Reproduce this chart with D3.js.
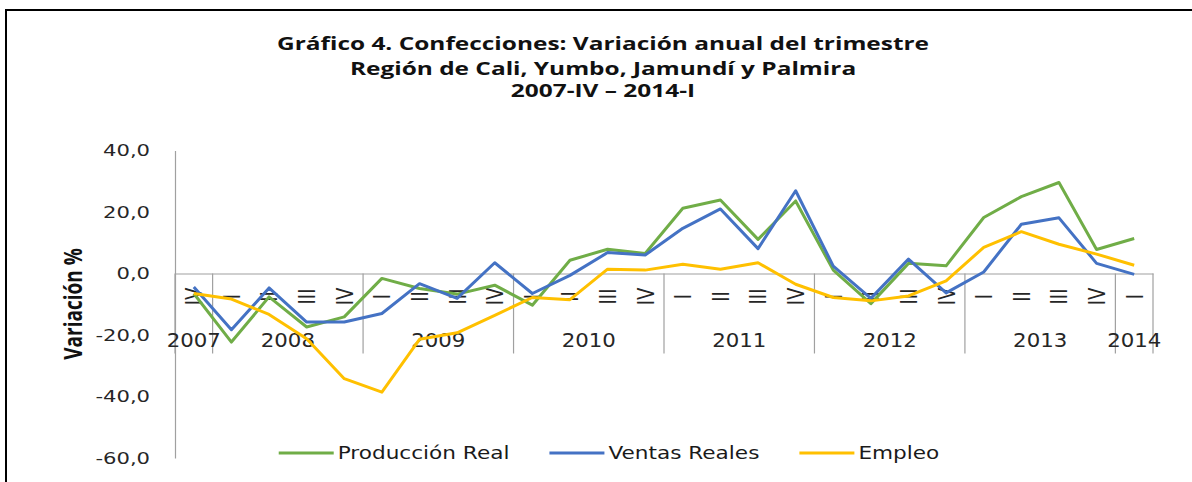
<!DOCTYPE html>
<html>
<head>
<meta charset="utf-8">
<script src="https://d3js.org/d3.v7.min.js"></script>
<style>
  body { margin: 0; background: #fff; }
  svg { display: block; }
</style>
</head>
<body>
<script>
var w = 1192;
var h = 482;

// categories: 2007-IV .. 2014-I
var quarters = ["IV",
  "I", "II", "III", "IV",
  "I", "II", "III", "IV",
  "I", "II", "III", "IV",
  "I", "II", "III", "IV",
  "I", "II", "III", "IV",
  "I", "II", "III", "IV",
  "I"];
var years = ["2007", "2008", "2009", "2010", "2011", "2012", "2013", "2014"];
var yearQuarters = [1, 4, 4, 4, 4, 4, 4, 1];

// series (variación anual %)
var produccion = [-6.5, -22.3, -7.6, -17.4, -14.1, -1.6, -4.9, -6.7, -3.8, -10.3, 4.3, 7.9, 6.5,
  21.2, 23.9, 11.1, 23.6, 1.1, -9.8, 3.3, 2.5, 18.2, 25.0, 29.6, 7.8, 11.4];
var ventas = [-4.4, -18.3, -4.7, -15.8, -15.8, -13.0, -3.3, -8.1, 3.5, -6.5, -0.6, 6.8, 6.0,
  14.7, 21.0, 8.1, 26.9, 2.4, -8.1, 4.7, -6.3, 0.5, 16.0, 18.1, 3.3, -0.3];
var empleo = [-6.5, -8.3, -13.3, -21.2, -34.2, -38.6, -21.4, -19.3, -13.6, -7.8, -8.5, 1.4, 1.1,
  3.0, 1.4, 3.5, -3.5, -7.8, -8.9, -7.3, -2.4, 8.5, 13.6, 9.5, 6.3, 2.7];

var seriesNames = ["Producción Real", "Ventas Reales", "Empleo"];
var seriesColors = ["#70ad47", "#4472c4", "#ffc000"];
var yTicks = [40, 20, 0, -20, -40, -60];

var titleLines = ["Gráfico 4. Confecciones: Variación anual del trimestre",
  "Región de Cali, Yumbo, Jamundí y Palmira",
  "2007-IV – 2014-I"];

var axisColor = "#a0a0a0";
var textColor = "#262626";

var canvas = d3.select("body").append("svg")
  .attr("width", w)
  .attr("height", h);

// frame
canvas.append("rect")
  .attr("x", 6).attr("y", 10)
  .attr("width", w + 20).attr("height", h + 20)
  .attr("fill", "none").attr("stroke", "#000").attr("stroke-width", 2);

var x = d3.scaleBand().domain(d3.range(quarters.length)).range([175, 1153]);
var y = d3.scaleLinear().domain([-60, 40]).range([458, 150.5]);
var bw = x.bandwidth();

// title
canvas.append("g").selectAll("g").data(titleLines).enter().append("g")
  .attr("transform", (d, i) => "translate(603," + [50, 74.5, 97][i] + ") scale(1.32,1)")
  .append("text")
  .attr("text-anchor", "middle")
  .attr("font-family", "Open Sans")
  .attr("font-weight", 700)
  .attr("font-size", 18.5)
  .attr("fill", "#111")
  .text((d) => d);

// y axis
var yAxis = canvas.append("g")
  .attr("transform", "translate(175, 0)")
  .call(d3.axisLeft(y).tickValues(yTicks).tickSize(0).tickPadding(19.5)
    .tickFormat((d) => d.toFixed(1).replace(".", ",")));
yAxis.select(".domain").attr("stroke", axisColor).attr("stroke-width", 1.2);
yAxis.selectAll("text")
  .attr("font-family", "DejaVu Sans")
  .attr("font-size", 16.5)
  .attr("fill", textColor)
  .attr("transform", "scale(1.28,1)");

canvas.append("g")
  .attr("transform", "translate(73, 304) scale(1.3,1) rotate(-90)")
  .append("text")
  .attr("text-anchor", "middle")
  .attr("dy", "0.36em")
  .attr("font-family", "Open Sans")
  .attr("font-weight", 700)
  .attr("font-size", 19)
  .attr("fill", "#111")
  .text("Variación %");

// category axis at zero
var xAxis = canvas.append("g")
  .attr("transform", "translate(0," + y(0) + ")")
  .call(d3.axisBottom(x).tickValues([]).tickSize(0));
xAxis.select(".domain").attr("stroke", axisColor).attr("stroke-width", 1.2);

var starts = [];
yearQuarters.reduce((s, n) => { starts.push(s); return s + n; }, 0);

var sepX = starts.map((s) => x(s)).concat([x.range()[1]]);
canvas.append("g").selectAll("line").data(sepX).enter().append("line")
  .attr("x1", (d) => d).attr("x2", (d) => d)
  .attr("y1", y(0)).attr("y2", y(0) + 80)
  .attr("stroke", axisColor).attr("stroke-width", 1.2);

canvas.append("g").selectAll("g").data(quarters).enter().append("g")
  .attr("transform", (d, i) => "translate(" + (x(i) + bw / 2) + "," + (y(0) + 23) + ") scale(1.3,1) rotate(-90)")
  .append("text")
  .attr("text-anchor", "middle")
  .attr("dy", "0.36em")
  .attr("font-family", "DejaVu Sans")
  .attr("font-size", 18)
  .attr("fill", textColor)
  .text((d) => d);

canvas.append("g").selectAll("g").data(years).enter().append("g")
  .attr("transform", (d, i) => "translate(" + (x(starts[i]) + yearQuarters[i] * bw / 2) + ",347) scale(1.12,1)")
  .append("text")
  .attr("text-anchor", "middle")
  .attr("font-family", "DejaVu Sans")
  .attr("font-size", 19)
  .attr("fill", textColor)
  .text((d) => d);

// lines
var line = d3.line()
  .x((d, i) => x(i) + bw / 2)
  .y((d) => y(d));

var series = [produccion, ventas, empleo];
canvas.append("g").selectAll("path").data(series).enter().append("path")
  .attr("d", (d) => line(d))
  .attr("fill", "none")
  .attr("stroke", (d, i) => seriesColors[i])
  .attr("stroke-width", 3)
  .attr("stroke-linejoin", "round");

// legend
var legendScale = 1.2;
var legend = canvas.append("g");
var items = legend.selectAll("g").data(seriesNames).enter().append("g");
items.append("line")
  .attr("x1", 0).attr("x2", 55)
  .attr("y1", 0).attr("y2", 0)
  .attr("stroke", (d, i) => seriesColors[i])
  .attr("stroke-width", 3);
items.append("g")
  .attr("transform", "translate(59,0) scale(" + legendScale + ",1)")
  .append("text")
  .attr("dy", "0.36em")
  .attr("font-family", "DejaVu Sans")
  .attr("font-size", 18)
  .attr("fill", "#1a1a1a")
  .text((d) => d);

var widths = [];
items.each(function () {
  widths.push(59 + d3.select(this).select("text").node().getComputedTextLength() * legendScale);
});
var total = d3.sum(widths) + 40 * (widths.length - 1);
var pos = 609 - total / 2;
items.attr("transform", (d, i) => {
  var t = "translate(" + pos + ",453)";
  pos += widths[i] + 40;
  return t;
});
</script>
</body>
</html>
